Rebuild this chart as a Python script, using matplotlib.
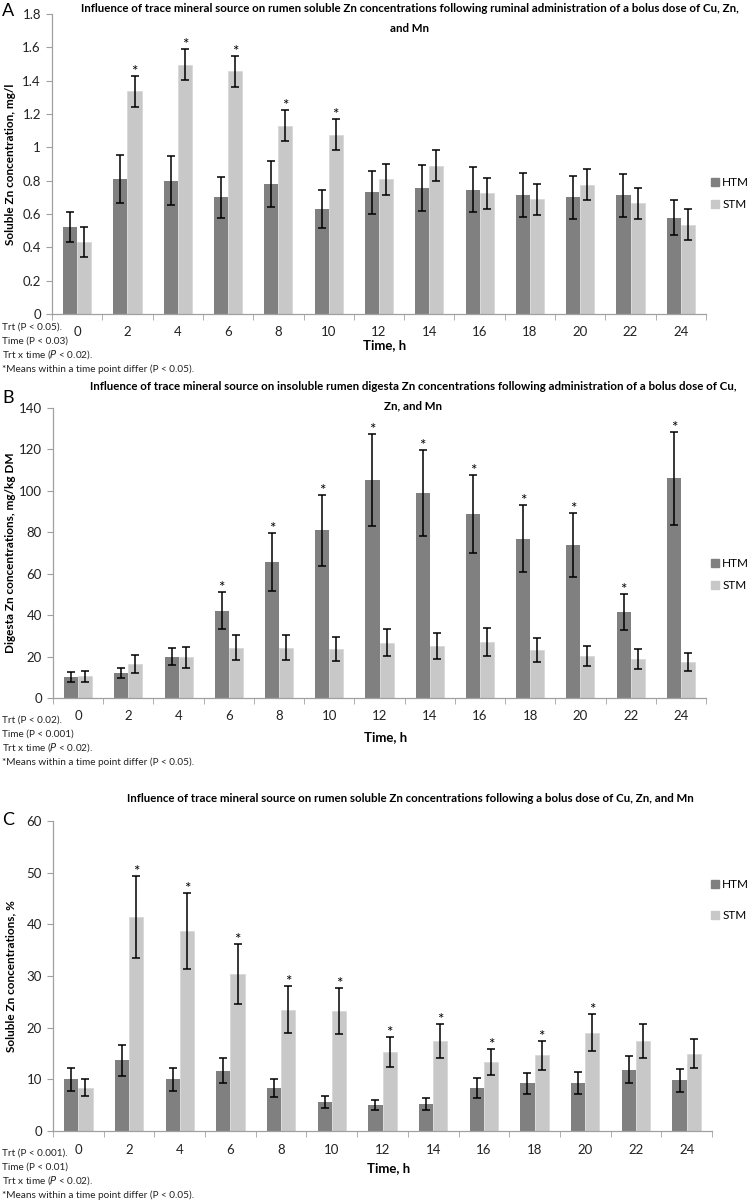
import numpy as np
import matplotlib.pyplot as plt
from matplotlib.patches import Patch

plt.rcParams['font.family'] = ['Lato', 'DejaVu Sans']

hours = [0, 2, 4, 6, 8, 10, 12, 14, 16, 18, 20, 22, 24]

# Panel A - soluble Zn, mg/l
a_htm = [0.52, 0.81, 0.80, 0.70, 0.78, 0.63, 0.73, 0.757, 0.745, 0.715, 0.70, 0.712, 0.578]
a_htm_se = [0.09, 0.145, 0.145, 0.125, 0.14, 0.115, 0.13, 0.137, 0.135, 0.13, 0.13, 0.13, 0.105]
a_stm = [0.435, 1.335, 1.495, 1.455, 1.13, 1.077, 0.808, 0.89, 0.725, 0.688, 0.776, 0.664, 0.536]
a_stm_se = [0.09, 0.093, 0.093, 0.093, 0.092, 0.093, 0.092, 0.093, 0.094, 0.094, 0.094, 0.094, 0.094]
a_sig = [0, 1, 1, 1, 1, 1, 0, 0, 0, 0, 0, 0, 0]   # star over STM

# Panel B - digesta Zn, mg/kg DM
b_htm = [10.2, 12.2, 20.0, 42.2, 65.8, 80.9, 105.3, 99.0, 88.8, 76.8, 73.7, 41.4, 106.0]
b_htm_se = [2.4, 2.5, 4.2, 8.9, 14.0, 17.0, 22.2, 20.8, 18.7, 16.2, 15.5, 8.8, 22.4]
b_stm = [10.4, 16.5, 19.7, 24.3, 24.3, 23.7, 26.7, 25.1, 27.1, 23.2, 20.3, 18.9, 17.4]
b_stm_se = [2.7, 4.2, 5.0, 6.0, 6.0, 5.8, 6.6, 6.4, 6.7, 6.0, 5.0, 4.7, 4.3]
b_sig = [0, 0, 0, 1, 1, 1, 1, 1, 1, 1, 1, 1, 1]   # star over HTM

# Panel C - soluble Zn, %
c_htm = [10.0, 13.7, 10.0, 11.7, 8.3, 5.6, 5.0, 5.2, 8.3, 9.2, 9.3, 11.9, 9.8]
c_htm_se = [2.2, 3.0, 2.2, 2.5, 1.8, 1.2, 1.0, 1.2, 1.9, 2.1, 2.1, 2.6, 2.2]
c_stm = [8.4, 41.4, 38.7, 30.4, 23.5, 23.2, 15.2, 17.5, 13.3, 14.7, 19.0, 17.4, 15.0]
c_stm_se = [1.6, 7.9, 7.4, 5.8, 4.5, 4.4, 2.9, 3.3, 2.5, 2.8, 3.6, 3.3, 2.9]
c_sig = [0, 1, 1, 1, 1, 1, 1, 1, 1, 1, 1, 0, 0]   # star over STM

a_yticks = [0, 0.2, 0.4, 0.6, 0.8, 1.0, 1.2, 1.4, 1.6, 1.8]
a_ylabels = ['0', '0.2', '0.4', '0.6', '0.8', '1', '1.2', '1.4', '1.6', '1.8']
b_yticks = [0, 20, 40, 60, 80, 100, 120, 140]
c_yticks = [0, 10, 20, 30, 40, 50, 60]

a_notes = ['Trt (P < 0.05).', 'Time (P < 0.03)', 'Trt x time ($\\it{P}$ < 0.02).',
           '*Means within a time point differ (P < 0.05).']
b_notes = ['Trt (P < 0.02).', 'Time (P < 0.001)', 'Trt x time ($\\it{P}$ < 0.02).',
           '*Means within a time point differ (P < 0.05).']
c_notes = ['Trt (P < 0.001).', 'Time (P < 0.01)', 'Trt x time ($\\it{P}$ < 0.02).',
           '*Means within a time point differ (P < 0.05).']

HTM_COL = '#808080'
STM_COL = '#c8c8c8'
W, H = 750.0, 1204.0

fig = plt.figure(figsize=(7.5, 12.04), dpi=100)


def fx(px):
    return px / W


def fy(py):
    return 1 - py / H


def panel(box, htm, htm_se, stm, stm_se, sig, star_on_stm, yticks, ylabels, ylabel,
          title, title_xy, legend_y, legend_gap, notes, notes_y, letter, letter_y,
          xlabel_y, star_off):
    left, right, top, bottom = box
    ax = fig.add_axes([fx(left), fy(bottom), fx(right - left), (bottom - top) / H])
    x = np.arange(len(hours))
    w = 0.28
    ekw = dict(ecolor='black', elinewidth=1.1, capsize=3, capthick=1.1)
    ax.bar(x - w / 2, htm, w, yerr=htm_se, color=HTM_COL, error_kw=ekw, zorder=2)
    ax.bar(x + w / 2, stm, w, yerr=stm_se, color=STM_COL, edgecolor='#d8d8d8',
           linewidth=0.6, error_kw=ekw, zorder=2)
    for i, s in enumerate(sig):
        if s:
            if star_on_stm:
                ax.text(x[i] + w / 2, stm[i] + stm_se[i] + star_off, '*', ha='center',
                        va='baseline', fontsize=11)
            else:
                ax.text(x[i] - w / 2, htm[i] + htm_se[i] + star_off, '*', ha='center',
                        va='baseline', fontsize=11)
    ax.set_xlim(-0.5, len(hours) - 0.5)
    ax.set_ylim(yticks[0], yticks[-1])
    ax.set_yticks(yticks)
    ax.set_yticklabels(ylabels, fontsize=9.5, color='#222222')
    ax.set_xticks(x)
    ax.set_xticklabels([str(h) for h in hours], fontsize=9.5, color='#222222')
    ax.set_xticks(np.arange(-0.5, len(hours)), minor=True)
    ax.tick_params(axis='x', which='major', length=0, pad=9)
    ax.tick_params(axis='x', which='minor', length=4, color='#a0a0a0', direction='out')
    ax.tick_params(axis='y', length=4, color='#a0a0a0', direction='out', pad=4)
    for sp in ['top', 'right']:
        ax.spines[sp].set_visible(False)
    for sp in ['left', 'bottom']:
        ax.spines[sp].set_color('#a0a0a0')
        ax.spines[sp].set_linewidth(0.9)
    ax.set_ylabel(ylabel, fontsize=8.5, fontweight='bold')
    ax.yaxis.set_label_coords(-(left - 16) / (right - left), 0.5)
    for k, line in enumerate(title):
        fig.text(fx(title_xy[0]), fy(title_xy[1] + k * 19), line, ha='center', va='center',
                 fontsize=8.3, fontweight='bold')
    fig.text(fx((left + right) / 2 + 6), fy(xlabel_y), 'Time, h', ha='center', va='center',
             fontsize=9.5, fontweight='bold')
    handles = [Patch(color=HTM_COL, label='HTM'), Patch(color=STM_COL, label='STM')]
    fig.legend(handles=handles, loc='center left', frameon=False, fontsize=8.5,
               bbox_to_anchor=(fx(711), fy(legend_y + legend_gap / 2)),
               borderaxespad=0, borderpad=0,
               handlelength=0.7, handleheight=0.7, handletextpad=0.25,
               labelspacing=(legend_gap - 12) / 12)
    for k, line in enumerate(notes):
        fig.text(fx(2), fy(notes_y + k * 14), line, ha='left', va='center', fontsize=7.2,
                 color='#222222')
    fig.text(fx(2), fy(letter_y), letter, ha='left', va='center', fontsize=13)
    return ax


panel((52, 706, 14, 314), a_htm, a_htm_se, a_stm, a_stm_se, a_sig, True,
      a_yticks, a_ylabels, 'Soluble Zn concentration, mg/l',
      ['Influence of trace mineral source on rumen soluble Zn concentrations following ruminal administration of a bolus dose of Cu, Zn,',
       'and Mn'],
      (410, 9), 182, 23, a_notes, 327, 'A', 11, 345, 0.0)

panel((53, 706, 408, 698), b_htm, b_htm_se, b_stm, b_stm_se, b_sig, False,
      b_yticks, [str(v) for v in b_yticks], 'Digesta Zn concentrations, mg/kg DM',
      ['Influence of trace mineral source on insoluble rumen digesta Zn concentrations following administration of a bolus dose of Cu,',
       'Zn, and Mn'],
      (413, 387), 563, 23, b_notes, 720, 'B', 398, 737, 0.0)

panel((53, 712, 821, 1131), c_htm, c_htm_se, c_stm, c_stm_se, c_sig, True,
      c_yticks, [str(v) for v in c_yticks], 'Soluble Zn concentrations, %',
      ['Influence of trace mineral source on rumen soluble Zn concentrations following a bolus dose of Cu, Zn, and Mn'],
      (410, 799), 884, 32, c_notes, 1153, 'C', 820, 1168, 0.0)

fig.savefig('out.png', dpi=100)
